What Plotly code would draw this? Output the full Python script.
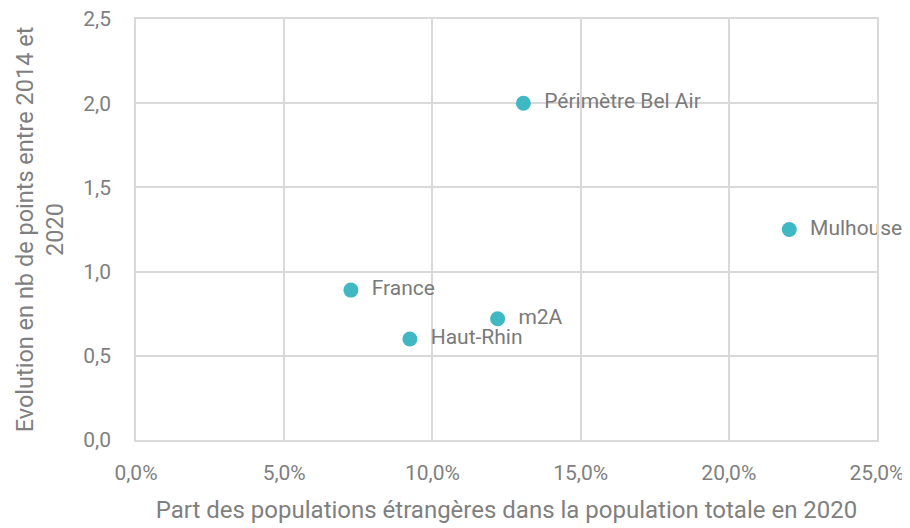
import plotly.graph_objects as go

names = ["Périmètre Bel Air", "Mulhouse", "France", "m2A", "Haut-Rhin"]
part_etrangers = [0.1307, 0.2204, 0.0725, 0.122, 0.0924]
evolution_points = [2.0, 1.25, 0.89, 0.72, 0.60]

x_ticks = [0, 0.05, 0.10, 0.15, 0.20, 0.25]
y_ticks = [0, 0.5, 1.0, 1.5, 2.0, 2.5]

FONT = "Roboto"
GRAY = "#7f7f7f"
GRID = "#d9d9d9"

fig = go.Figure(go.Scatter(
    x=part_etrangers, y=evolution_points,
    mode="markers+text",
    text=["  " + n for n in names],
    textposition="middle right",
    textfont=dict(family=FONT, size=21, color="#7a7a7a"),
    marker=dict(size=15, color="#40b8c4"),
    cliponaxis=False,
    hoverinfo="skip",
))

fig.update_layout(
    width=910, height=528,
    margin=dict(l=128, r=41, t=11, b=96),
    plot_bgcolor="white", paper_bgcolor="white",
    separators=", ",
    showlegend=False,
    font=dict(family=FONT, color=GRAY),
)
fig.update_xaxes(
    range=[0, 0.25], tickvals=x_ticks, tickformat=".1%",
    showgrid=True, gridcolor=GRID, gridwidth=1.5,
    showline=True, linecolor=GRID, linewidth=1.5, mirror=True,
    zeroline=False, automargin=False, ticklabeloverflow="allow",
    ticks="outside", ticklen=13, tickcolor="white",
    tickfont=dict(family=FONT, size=21, color=GRAY),
    title=dict(text="Part des populations étrangères dans la population totale en 2020",
               font=dict(family=FONT, size=24, color=GRAY), standoff=17),
)
fig.update_yaxes(
    range=[0, 2.5], tickvals=y_ticks, tickformat=".1f",
    showgrid=True, gridcolor=GRID, gridwidth=1.5,
    showline=True, linecolor=GRID, linewidth=1.5, mirror=True,
    zeroline=False, automargin=False, ticklabeloverflow="allow",
    ticks="outside", ticklen=19, tickcolor="white",
    tickfont=dict(family=FONT, size=21, color=GRAY),
    title=dict(text="Evolution en nb de points entre 2014 et<br>2020",
               font=dict(family=FONT, size=23.5, color=GRAY), standoff=13),
)

fig.write_html("out.html")
